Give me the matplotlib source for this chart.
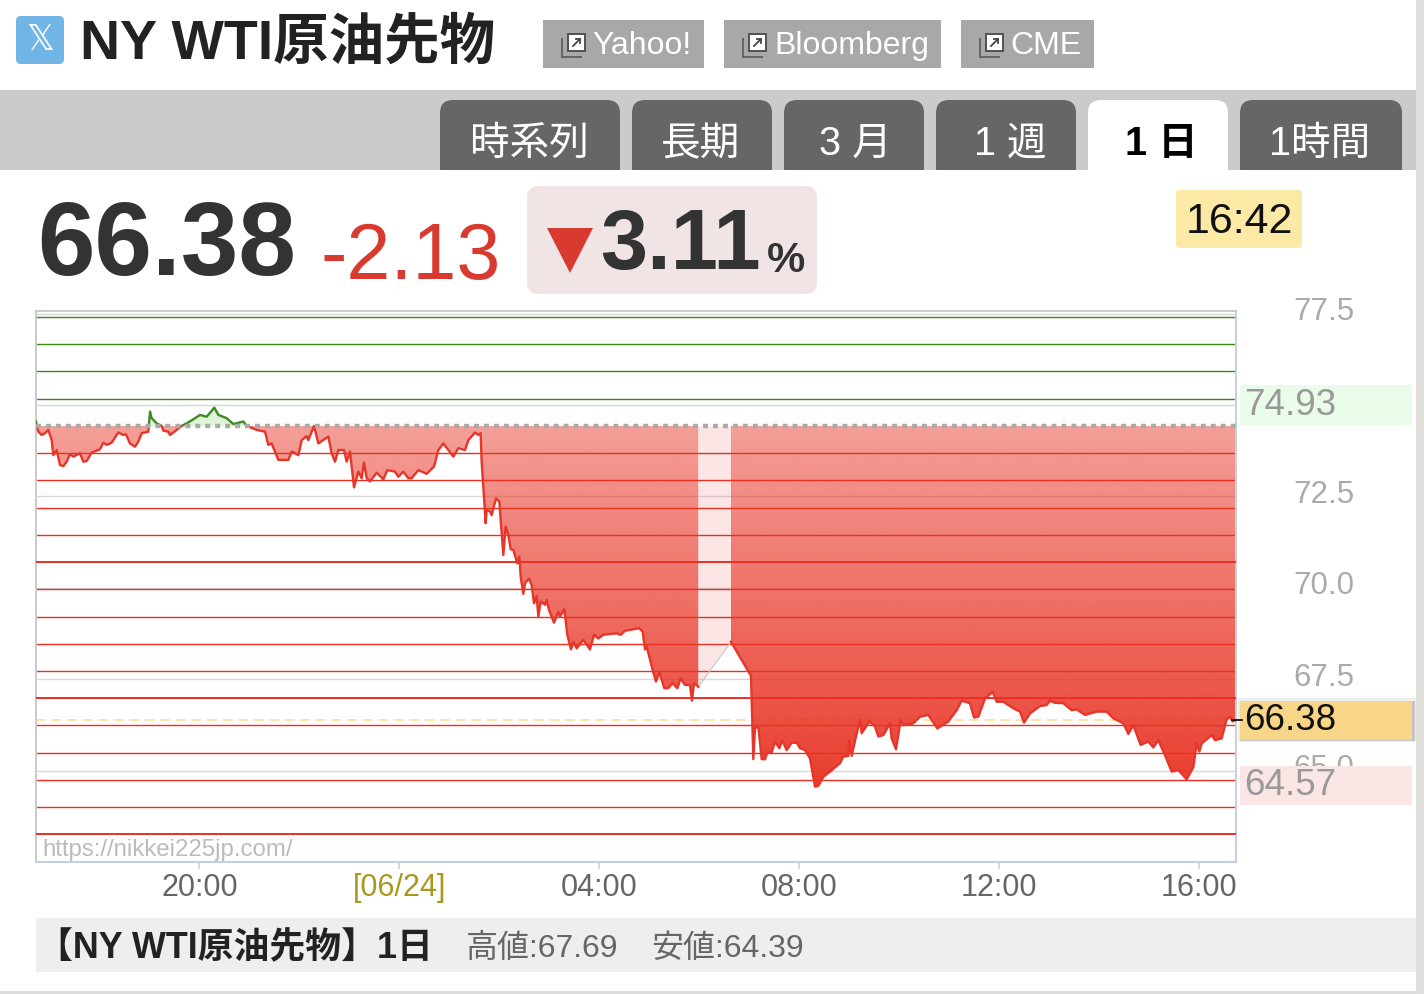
import numpy as np
import matplotlib
matplotlib.use("Agg")
import matplotlib.pyplot as plt
from matplotlib.patches import Rectangle, FancyBboxPatch, Polygon
from matplotlib.path import Path
from matplotlib.transforms import blended_transform_factory, ScaledTranslation

plt.rcParams['font.family'] = ['Liberation Sans', 'Noto Sans CJK JP', 'DejaVu Sans']

# ---- data: minutes after 16:44 and price ----
t1 = [0,2.8,6.8,10.8,14.8,18.8,20.8,24.8,28.8,32.8,36.8,40.8,44.8,52.8,56.8,60.8,66.8,76.8,80.8,84.8,90.8,98.8,104.8,108,112.8,118.8,122.8,126.8,134.8,136.8,138.8,144.8,150.8,152.8,158.8,160.8,168.8,174.8,180.8,188.8,196.8,204.8,214,218.8,228.8,236.8,248.8,252.8,264.8,274.8,278.8,282.8,290.8,302.8,306.8,314.8,318.8,324.8,326.8,333.6,338.8,350.8,354.8,358.8,362.8,369.6,372.8,376.8,381.6,386.8,390.8,393.6,396.8,400.8,408.8,416.8,421.6,430.8,434.8,440.8,446.8,450.8,458.8,468.8,477.6,482.8,488.8,500.8,506.8,514.8,518.8,526.8,530.8,533.6,
      534.8,539.6,540.8,544.8,546.8,552,556,560.8,563.6,566.8,569.6,572.8,577.6,580,581.6,584.8,586.8,591.6,594.8,597.6,600.8,602.8,605.6,610.8,612.8,615.6,621.6,626.8,628.8,634,637.6,642,644.8,648.8,656.8,664.8,669.6,674.8,680.8,696.8,701.6,706.8,723.6,728,730.8,732.8,740,744,748,754,758.8,763.6,769.6,773.6,778.8,784.8,787.2,789.6,794.8]
p1 = [74.55,74.27,74.18,74.23,74.32,74.04,73.63,73.77,73.36,73.33,73.45,73.66,73.59,73.68,73.45,73.47,73.70,73.79,73.97,73.91,73.97,74.25,74.18,74.20,73.95,73.86,74.00,74.23,74.27,74.82,74.64,74.50,74.43,74.30,74.27,74.18,74.32,74.43,74.50,74.61,74.73,74.68,74.93,74.73,74.64,74.48,74.55,74.43,74.32,74.27,73.91,73.95,73.50,73.50,73.73,73.63,74.04,74.15,74.04,74.43,73.95,74.14,73.68,73.45,73.77,73.77,73.45,73.73,72.75,73.18,73.00,73.43,73.00,72.91,73.15,72.97,73.22,73.18,73.04,73.18,73.00,73.00,73.22,73.12,73.32,73.77,73.95,73.59,73.82,73.77,74.04,74.25,74.18,74.23,
      73.45,71.77,72.13,72.09,71.99,72.45,72.36,70.90,71.68,71.45,71.06,71.04,70.67,70.86,70.31,69.84,70.13,70.26,70.08,69.58,69.78,69.22,69.63,69.54,69.67,69.40,69.05,69.35,69.22,69.42,68.72,68.32,68.53,68.35,68.58,68.32,68.72,68.62,68.72,68.76,68.72,68.83,68.90,68.81,68.32,68.40,67.76,67.44,67.70,67.26,67.26,67.40,67.26,67.53,67.35,67.35,66.92,67.40,67.30]
t2 = [834,858,860.8,862.8,866.8,870.8,874.8,878,882.8,886.8,892,895.6,900.8,906.8,912.8,916.8,922.8,928.8,934.8,938.8,944.8,952.8,964.8,968.8,974.8,975.6,978.8,984,988.8,990.8,1000,1006.8,1010.8,1016.8,1024.8,1026.8,1032,1037.6,1040.8,1052.8,1060.8,1070.8,1081.6,1094.8,1104.8,1110.8,1120.8,1125.6,1130.8,1138.8,1148,1152.8,1160.8,1172.8,1180.8,1185.6,1192.8,1204.8,1212.8,1216.8,1222.8,1232.8,1242.8,1248.8,1258.8,1272.8,1284.8,1292.8,1304.8,1310.8,1316.8,1325.6,1334.8,1340.8,1346.8,1354.8,1362.8,1370.8,1380.8,1388.8,1392.8,1396,1398.8,1410.8,1414.8,1422.8,1428.8,1432.8,1436,1439]
p2 = [68.53,67.60,65.32,66.17,66.21,65.32,65.32,65.53,65.50,65.80,65.62,65.83,65.57,65.77,65.77,65.62,65.57,65.34,64.57,64.59,64.84,64.98,65.21,65.39,65.41,65.84,65.41,65.94,66.39,66.03,66.35,66.21,65.94,65.98,66.30,65.89,65.59,66.39,66.25,66.30,66.48,66.53,66.16,66.35,66.66,66.92,66.85,66.46,66.48,66.98,67.16,66.89,66.89,66.71,66.62,66.32,66.57,66.77,66.80,66.92,66.86,66.85,66.66,66.68,66.53,66.62,66.62,66.44,66.30,66.01,66.25,65.71,65.80,65.64,65.84,65.43,64.98,65.02,64.77,65.10,65.75,65.53,65.75,65.98,65.84,65.89,66.41,66.48,66.35,66.38]
close_price = 74.43
last_price = 66.38
high_price = 74.93
low_price = 64.57
y_ticks = [77.5, 75.0, 72.5, 70.0, 67.5, 65.0]
y_tick_labels = ['77.5', '', '72.5', '70.0', '67.5', '65.0']
x_ticks = [196, 436, 676, 916, 1156, 1396]
x_tick_labels = ['20:00', '[06/24]', '04:00', '08:00', '12:00', '16:00']
up_pcts = [1, 2, 3, 4]
down_pcts = [1, 2, 3, 4, 5, 6, 7, 8, 9, 10, 11, 12, 13, 14, 15]
tabs = ['時系列', '長期', '3 月', '1 週', '1 日', '1時間']
links = ['Yahoo!', 'Bloomberg', 'CME']

W, H = 1424, 994
fig = plt.figure(figsize=(W/100, H/100), dpi=100, facecolor='white')
pg = fig.add_axes([0, 0, 1, 1], zorder=0)
pg.set_xlim(0, W); pg.set_ylim(H, 0); pg.axis('off')

def rrect(x0, y0, x1, y1, r, color, ax=pg, z=1):
    ax.add_patch(FancyBboxPatch((x0+r, y0+r), x1-x0-2*r, y1-y0-2*r,
                 boxstyle=f'round,pad={r},rounding_size={r}', fc=color, ec='none', zorder=z))

def rect(x0, y0, x1, y1, color, z=1, **kw):
    pg.add_patch(Rectangle((x0, y0), x1-x0, y1-y0, fc=color, ec='none', zorder=z, **kw))

# header
rect(1416, 0, 1424, 994, '#dfdedb')
rrect(16, 16, 64, 64, 5, '#70b5e5')
pg.text(40, 40, '𝕏', family='DejaVu Sans', fontsize=25, color='white', ha='center', va='center', zorder=3)
pg.text(80, 44, 'NY WTI原油先物', fontsize=40, fontweight='bold', color='#222222', va='center', zorder=3)

for (x0, x1, tx), lab in zip([(543, 704, 592), (724, 941, 774), (961, 1094, 1010)], links):
    rect(x0, 20, x1, 68, '#a8a8a8')
    ix = x0 + 18
    rect(ix, 38, ix+21, 58, '#666666', z=2)
    rect(ix+2, 38, ix+24, 56, '#a8a8a8', z=2)
    rect(ix+6, 33, ix+25, 52, '#555555', z=2)
    rect(ix+8, 35, ix+23, 50, 'white', z=2)
    pg.plot([ix+12, ix+19], [46, 39], color='#444444', lw=1.3, zorder=3)
    pg.plot([ix+15, ix+19, ix+19], [39, 39, 43], color='#444444', lw=1.3, zorder=3)
    pg.text(tx, 46, lab, fontsize=23, color='white', va='center', zorder=3)

# tab band
rect(0, 90, 1416, 170, '#cbcbcb')
tab_x = [(440, 620), (632, 772), (784, 924), (936, 1076), (1088, 1228), (1240, 1402)]
tab_cx = [529, 701, 855, 1010, 1161, 1320]
for i, ((x0, x1), lab, cx) in enumerate(zip(tab_x, tabs, tab_cx)):
    active = i == 4
    c = 'white' if active else '#666666'
    rrect(x0, 100, x1, 182, 13, c, z=2)
    rect(x0-1, 170, x1+1, 184, 'white', z=2.5)
    pg.text(cx, 144, lab, fontsize=28.5, color='black' if active else 'white',
            fontweight='bold' if active else 'normal', ha='center', va='center', zorder=3)

# quote row
pg.text(37, 248, '66.38', fontsize=74.5, fontweight='bold', color='#333333', va='center', zorder=3)
pg.text(320, 258, '-2.13', fontsize=57, color='#d93a30', va='center', zorder=3)
rrect(527, 186, 817, 294, 12, '#f1e4e5')
pg.add_patch(Polygon([(547, 228), (593, 228), (570, 273)], fc='#d93a30', ec='none', zorder=3))
pg.text(600, 247, '3.11', fontsize=61, fontweight='bold', color='#333333', va='center', zorder=3)
pg.text(767, 272, '%', fontsize=31, fontweight='bold', color='#333333', va='baseline', zorder=3)
rrect(1176, 190, 1302, 248, 3, '#fce9a6')
pg.text(1239, 222, '16:42', fontsize=31, color='#111111', ha='center', va='center', zorder=3)

# footer
rect(36, 918, 1416, 972, '#eeeeee')
rect(0, 991, 1416, 994, '#dddddd')
pg.text(37, 949, '【NY WTI原油先物】1日', fontsize=25.8, fontweight='bold', color='#222222', va='center', zorder=3)
pg.text(466, 949, '高値:67.69', fontsize=23, color='#666666', va='center', zorder=3)
pg.text(651, 949, '安値:64.39', fontsize=23, color='#666666', va='center', zorder=3)

# ---- chart ----
ax = fig.add_axes([36/W, (H-862)/H, 1200/W, 551/H], zorder=2)
ax.set_facecolor('white')
ymin, ymax = 62.51, 77.57
xmax = 1440
ax.set_axisbelow(True)

for pct in up_pcts:
    ax.axhline(close_price*(1+pct/100), color='#3a8a14', lw=1.0, zorder=1.2)
for pct in down_pcts:
    thick = pct % 5 == 0
    ax.axhline(close_price*(1-pct/100), color='#ec2e22', lw=1.4 if thick else 1.0, zorder=4 if thick else 1.2)

ax.axhline(last_price, color='#fde3a5', lw=1.4, dashes=(5, 3), zorder=1.3)

# gradient fill clipped to the area between the line and previous close
ta, pa = np.array(t1), np.array(p1)
tb, pb = np.array(t2), np.array(p2)
grad = np.zeros((256, 2, 4))
frac = np.linspace(0, 1, 256)[:, None]
grad[..., 0] = 232/255; grad[..., 1] = 50/255; grad[..., 2] = 35/255
grad[..., 3] = 0.47 + 0.48*frac
for T, P in ((ta, pa), (tb, pb)):
    coll = ax.fill_between(T, np.minimum(P, close_price), close_price, color='none', lw=0)
    path = Path.make_compound_path(*coll.get_paths())
    coll.remove()
    im = ax.imshow(grad, extent=[0, xmax, low_price, close_price], aspect='auto',
                   origin='upper', zorder=2, interpolation='bilinear')
    im.set_clip_path(path, ax.transData)

ax.fill_between(ta, close_price, np.maximum(pa, close_price), color='#def3d8', lw=0, zorder=2)

# closed session gap
gap_t = [t1[-1], t2[0]]
gap_p = [p1[-1], p2[0]]
ax.fill_between(gap_t, gap_p, close_price, color='#e8322a', alpha=0.12, lw=0, zorder=2)
ax.plot(gap_t, gap_p, color='#c8c8c8', lw=0.8, zorder=3)

red_clip = Rectangle((0, ymin), xmax, close_price-ymin, transform=ax.transData)
green_clip = Rectangle((0, close_price), xmax, ymax-close_price, transform=ax.transData)
for T, P in ((ta, pa), (tb, pb)):
    l, = ax.plot(T, P, color='#e8352a', lw=1.7, zorder=5, solid_joinstyle='round')
    l.set_clip_path(red_clip)
l, = ax.plot(ta, pa, color='#3f8a28', lw=1.7, zorder=5, solid_joinstyle='round')
l.set_clip_path(green_clip)
ax.axhline(close_price, color='#aaaaaa', lw=3.2, dashes=(1.12, 1.12), zorder=6)

ax.set_xlim(0, xmax)
ax.set_ylim(ymin, ymax)

# axes furniture
ax.yaxis.tick_right()
ax.set_yticks(y_ticks)
ax.set_yticklabels(y_tick_labels, fontsize=22.5, color='#aaaaaa')
ax.tick_params(axis='y', length=0, pad=41)
label_up = ScaledTranslation(0, 5/100, fig.dpi_scale_trans)
for lab in ax.get_yticklabels():
    lab.set_transform(lab.get_transform() + label_up)
ax.yaxis.grid(True, color='#d9d9d9', lw=1.0)
ax.set_xticks(x_ticks)
ax.set_xticklabels(x_tick_labels, fontsize=22, color='#666666')
ax.get_xticklabels()[1].set_color('#a8981e')
ax.tick_params(axis='x', length=5, width=1.2, color='#c8d4e2', pad=3)
for side, c in (('top', '#cccccc'), ('left', '#cccccc'), ('right', '#c8d0da'), ('bottom', '#c4d0de')):
    ax.spines[side].set_color(c)
    ax.spines[side].set_linewidth(1.5)

ax.text(42, 850, 'https://nikkei225jp.com/', transform=blended_transform_factory(pg.transData, pg.transData),
        fontsize=17.3, color='#bbbbbb', va='center', zorder=7)

# value flags at the right of the plot
tr = blended_transform_factory(pg.transData, ax.transData)
half = 0.535
flags = [(high_price + 0.07, '74.93', '#e9fce9', '#999999', False),
         (low_price + 0.03, '64.57', '#fbe6e6', '#999999', False),
         (last_price, '66.38', '#f8d687', '#111111', True)]
for v, lab, bg, fg, shadow in flags:
    if shadow:
        ax.add_patch(Rectangle((1238, v-half-0.06), 178, 2*half+0.14, transform=tr, fc='#eeeeee', ec='none',
                               clip_on=False, zorder=7))
        ax.add_patch(Rectangle((1240, v-half-0.03), 175, 2*half+0.03, transform=tr, fc='#c4c4c4', ec='none',
                               clip_on=False, zorder=7.1))
    ax.add_patch(Rectangle((1240, v-half), 172, 2*half, transform=tr, fc=bg, ec='none', clip_on=False, zorder=7.2))
    ax.text(1244, v, lab, transform=tr, fontsize=26.5, color=fg, va='center', clip_on=False, zorder=8)
ax.plot([1232, 1242], [last_price, last_price], transform=tr, color='#111111', lw=1.3, clip_on=False, zorder=9)

fig.savefig('out.png', dpi=100, facecolor='white')
